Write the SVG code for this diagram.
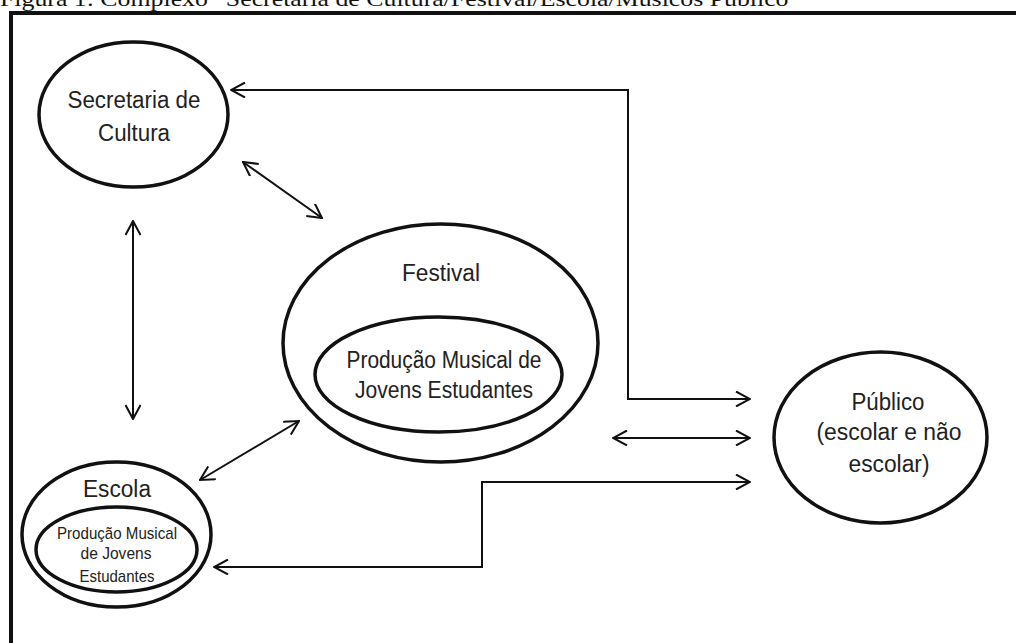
<svg xmlns="http://www.w3.org/2000/svg" width="1016" height="643" viewBox="0 0 1016 643">
  <defs>
    <marker id="arr" viewBox="0 0 16 16" refX="15" refY="8" markerWidth="16" markerHeight="16" markerUnits="userSpaceOnUse" orient="auto-start-reverse">
      <path d="M1,0.5 L15,8 L1,15.5" fill="none" stroke="#111" stroke-width="2"/>
    </marker>
  </defs>
  <style>
    .node { fill: none; stroke: #111; stroke-width: 3.5; }
    .lbl { font-family: "Liberation Sans", Arial, sans-serif; font-size: 23px; fill: #222; text-anchor: middle; }
    .sm { font-size: 17px; }
    .conn { fill: none; stroke: #111; stroke-width: 2; marker-start: url(#arr); marker-end: url(#arr); }
  </style>
  <rect width="1016" height="643" fill="#fff"/>
  <text x="0" y="6" font-family="Liberation Serif, Times New Roman, serif" font-size="22" fill="#111" textLength="800" lengthAdjust="spacingAndGlyphs">Figura 1: Complexo “Secretaria de Cultura/Festival/Escola/Músicos Público”</text>
  <rect x="11" y="13" width="1020" height="650" fill="none" stroke="#111" stroke-width="4"/>

  <g id="secretaria">
    <ellipse class="node" cx="133.5" cy="114.5" rx="94.5" ry="72.5"/>
    <text class="lbl" x="134" y="108" textLength="133" lengthAdjust="spacingAndGlyphs">Secretaria de</text>
    <text class="lbl" x="134" y="141" textLength="72" lengthAdjust="spacingAndGlyphs">Cultura</text>
  </g>

  <g id="festival">
    <ellipse class="node" cx="440.5" cy="343" rx="157.5" ry="119"/>
    <text class="lbl" x="441" y="281" textLength="78" lengthAdjust="spacingAndGlyphs">Festival</text>
    <ellipse class="node" cx="438.5" cy="374.5" rx="123.5" ry="57.5"/>
    <text class="lbl" x="444" y="368" textLength="195" lengthAdjust="spacingAndGlyphs">Produção Musical de</text>
    <text class="lbl" x="444" y="398" textLength="178" lengthAdjust="spacingAndGlyphs">Jovens Estudantes</text>
  </g>

  <g id="publico">
    <ellipse class="node" cx="880.5" cy="437.5" rx="106.5" ry="85.5"/>
    <text class="lbl" x="888" y="410" textLength="73" lengthAdjust="spacingAndGlyphs">Público</text>
    <text class="lbl" x="889" y="440" textLength="145" lengthAdjust="spacingAndGlyphs">(escolar e não</text>
    <text class="lbl" x="889" y="472" textLength="81" lengthAdjust="spacingAndGlyphs">escolar)</text>
  </g>

  <g id="escola">
    <ellipse class="node" cx="116.5" cy="534.5" rx="94.5" ry="72.5"/>
    <text class="lbl" x="117" y="497" textLength="68" lengthAdjust="spacingAndGlyphs">Escola</text>
    <ellipse class="node" cx="116.5" cy="549.5" rx="80.5" ry="42.5"/>
    <text class="lbl sm" x="117" y="539" textLength="120" lengthAdjust="spacingAndGlyphs">Produção Musical</text>
    <text class="lbl sm" x="116" y="559" textLength="71" lengthAdjust="spacingAndGlyphs">de Jovens</text>
    <text class="lbl sm" x="117" y="582" textLength="75" lengthAdjust="spacingAndGlyphs">Estudantes</text>
  </g>

  <g id="connectors">
    <path class="conn" d="M231,90 H628 V399 H750"/>
    <path class="conn" d="M243,162 L322,218"/>
    <path class="conn" d="M133,221 V419" stroke="#333" stroke-width="2.5"/>
    <path class="conn" d="M299,421 L200,480"/>
    <path class="conn" d="M613,438 H750"/>
    <path class="conn" d="M214,567 H482 V482 H750"/>
  </g>
</svg>
